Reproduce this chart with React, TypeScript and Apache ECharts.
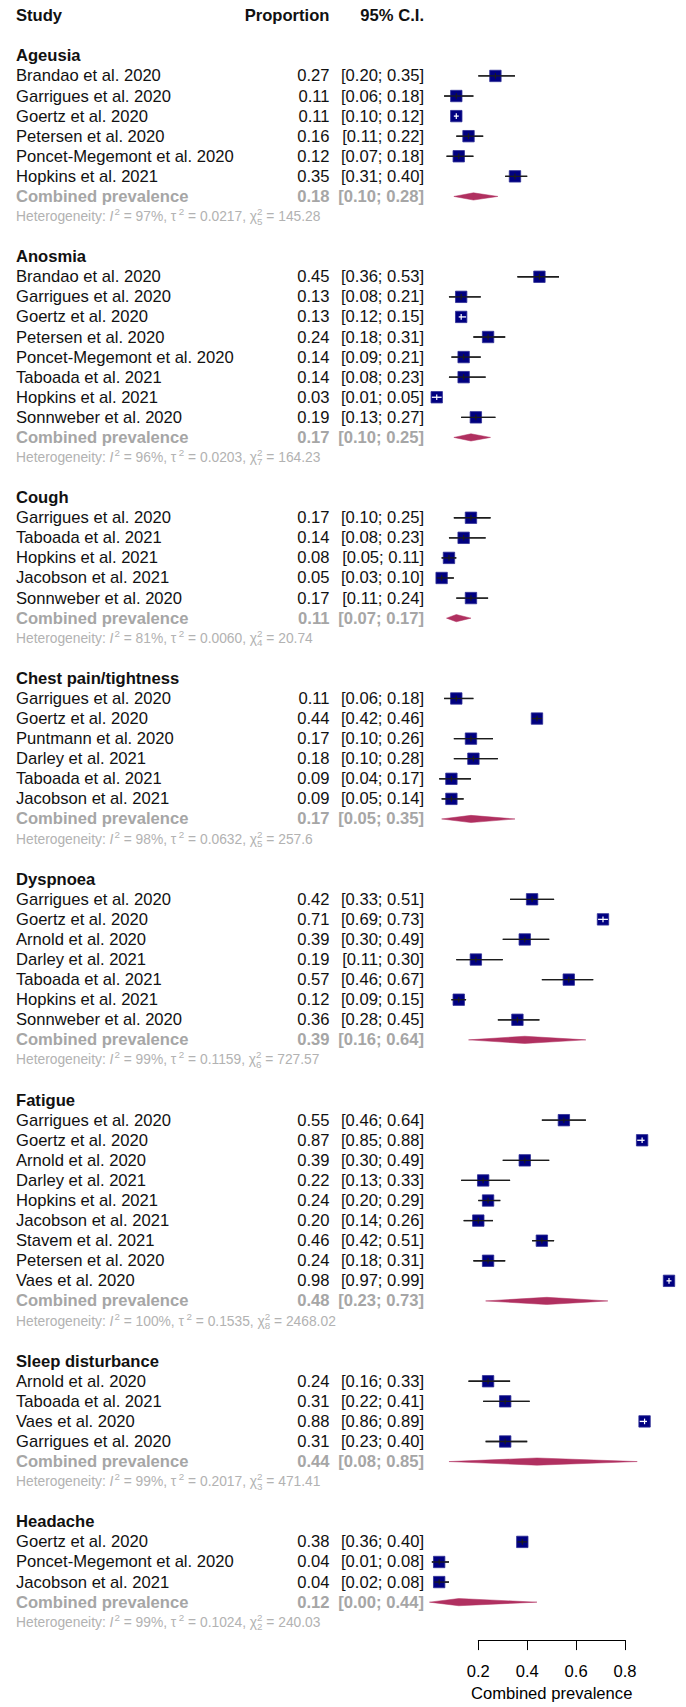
import React, { useEffect, useRef } from "react";
import * as echarts from "echarts";

type Study = [string, number, number, number];

const groupTitles = [
  "Ageusia",
  "Anosmia",
  "Cough",
  "Chest pain/tightness",
  "Dyspnoea",
  "Fatigue",
  "Sleep disturbance",
  "Headache",
];

const ageusia: Study[] = [
  ["Brandao et al. 2020", 0.27, 0.2, 0.35],
  ["Garrigues et al. 2020", 0.11, 0.06, 0.18],
  ["Goertz et al. 2020", 0.11, 0.1, 0.12],
  ["Petersen et al. 2020", 0.16, 0.11, 0.22],
  ["Poncet-Megemont et al. 2020", 0.12, 0.07, 0.18],
  ["Hopkins et al. 2021", 0.35, 0.31, 0.4],
];
const anosmia: Study[] = [
  ["Brandao et al. 2020", 0.45, 0.36, 0.53],
  ["Garrigues et al. 2020", 0.13, 0.08, 0.21],
  ["Goertz et al. 2020", 0.13, 0.12, 0.15],
  ["Petersen et al. 2020", 0.24, 0.18, 0.31],
  ["Poncet-Megemont et al. 2020", 0.14, 0.09, 0.21],
  ["Taboada et al. 2021", 0.14, 0.08, 0.23],
  ["Hopkins et al. 2021", 0.03, 0.01, 0.05],
  ["Sonnweber et al. 2020", 0.19, 0.13, 0.27],
];
const cough: Study[] = [
  ["Garrigues et al. 2020", 0.17, 0.1, 0.25],
  ["Taboada et al. 2021", 0.14, 0.08, 0.23],
  ["Hopkins et al. 2021", 0.08, 0.05, 0.11],
  ["Jacobson et al. 2021", 0.05, 0.03, 0.1],
  ["Sonnweber et al. 2020", 0.17, 0.11, 0.24],
];
const chestPain: Study[] = [
  ["Garrigues et al. 2020", 0.11, 0.06, 0.18],
  ["Goertz et al. 2020", 0.44, 0.42, 0.46],
  ["Puntmann et al. 2020", 0.17, 0.1, 0.26],
  ["Darley et al. 2021", 0.18, 0.1, 0.28],
  ["Taboada et al. 2021", 0.09, 0.04, 0.17],
  ["Jacobson et al. 2021", 0.09, 0.05, 0.14],
];
const dyspnoea: Study[] = [
  ["Garrigues et al. 2020", 0.42, 0.33, 0.51],
  ["Goertz et al. 2020", 0.71, 0.69, 0.73],
  ["Arnold et al. 2020", 0.39, 0.3, 0.49],
  ["Darley et al. 2021", 0.19, 0.11, 0.3],
  ["Taboada et al. 2021", 0.57, 0.46, 0.67],
  ["Hopkins et al. 2021", 0.12, 0.09, 0.15],
  ["Sonnweber et al. 2020", 0.36, 0.28, 0.45],
];
const fatigue: Study[] = [
  ["Garrigues et al. 2020", 0.55, 0.46, 0.64],
  ["Goertz et al. 2020", 0.87, 0.85, 0.88],
  ["Arnold et al. 2020", 0.39, 0.3, 0.49],
  ["Darley et al. 2021", 0.22, 0.13, 0.33],
  ["Hopkins et al. 2021", 0.24, 0.2, 0.29],
  ["Jacobson et al. 2021", 0.2, 0.14, 0.26],
  ["Stavem et al. 2021", 0.46, 0.42, 0.51],
  ["Petersen et al. 2020", 0.24, 0.18, 0.31],
  ["Vaes et al. 2020", 0.98, 0.97, 0.99],
];
const sleep: Study[] = [
  ["Arnold et al. 2020", 0.24, 0.16, 0.33],
  ["Taboada et al. 2021", 0.31, 0.22, 0.41],
  ["Vaes et al. 2020", 0.88, 0.86, 0.89],
  ["Garrigues et al. 2020", 0.31, 0.23, 0.4],
];
const headache: Study[] = [
  ["Goertz et al. 2020", 0.38, 0.36, 0.4],
  ["Poncet-Megemont et al. 2020", 0.04, 0.01, 0.08],
  ["Jacobson et al. 2021", 0.04, 0.02, 0.08],
];

const studiesByGroup = [ageusia, anosmia, cough, chestPain, dyspnoea, fatigue, sleep, headache];

const pooledEst = [0.18, 0.17, 0.11, 0.17, 0.39, 0.48, 0.44, 0.12];
const pooledLo = [0.1, 0.1, 0.07, 0.05, 0.16, 0.23, 0.08, 0.0];
const pooledHi = [0.28, 0.25, 0.17, 0.35, 0.64, 0.73, 0.85, 0.44];

const hetI2 = [97, 96, 81, 98, 99, 100, 99, 99];
const hetTau2 = ["0.0217", "0.0203", "0.0060", "0.0632", "0.1159", "0.1535", "0.2017", "0.1024"];
const hetDf = [5, 7, 4, 5, 6, 8, 3, 2];
const hetQ = ["145.28", "164.23", "20.74", "257.6", "727.57", "2468.02", "471.41", "240.03"];

const xTicks = [0.2, 0.4, 0.6, 0.8];

// studies whose CI lies inside the square (drawn with a white cross)
const whiteCross = [
  "Ageusia|Goertz et al. 2020",
  "Anosmia|Goertz et al. 2020",
  "Anosmia|Hopkins et al. 2021",
  "Dyspnoea|Goertz et al. 2020",
  "Fatigue|Goertz et al. 2020",
  "Fatigue|Vaes et al. 2020",
  "Sleep disturbance|Vaes et al. 2020",
];

const FONT = "'Liberation Sans', Arial, Helvetica, sans-serif";
const FS = 16.6;
const HET_FS = 13.8;
const SUP_FS = 9.8;
const NAME_X = 16;
const PROP_X = 329.5;
const CI_X = 424;
const GRAY = "#a6a6a6";
const HET_GRAY = "#b2b2b2";
const TEXT = "#111111";
const NAVY = "#000080";
const MAROON = "#b03060";

type Row = {
  kind: "header" | "title" | "study" | "combined" | "het";
  row: number;
  g: number;
  name?: string;
  est?: number;
  lo?: number;
  hi?: number;
};

function buildRows(): Row[] {
  const rows: Row[] = [];
  let r = 0;
  rows.push({ kind: "header", row: r, g: -1 });
  r += 2;
  groupTitles.forEach((title, g) => {
    rows.push({ kind: "title", row: r++, g, name: title });
    studiesByGroup[g].forEach((s) => {
      rows.push({ kind: "study", row: r++, g, name: s[0], est: s[1], lo: s[2], hi: s[3] });
    });
    rows.push({
      kind: "combined",
      row: r++,
      g,
      name: "Combined prevalence",
      est: pooledEst[g],
      lo: pooledLo[g],
      hi: pooledHi[g],
    });
    rows.push({ kind: "het", row: r++, g });
    r += 1;
  });
  return rows;
}

let measureCtx: CanvasRenderingContext2D | null = null;
function textWidth(s: string, size: number, italic = false, bold = false) {
  if (!measureCtx) measureCtx = document.createElement("canvas").getContext("2d");
  if (!measureCtx) return s.length * size * 0.5;
  measureCtx.font = `${italic ? "italic " : ""}${bold ? "bold " : ""}${size}px ${FONT}`;
  return measureCtx.measureText(s).width;
}

function txt(
  text: string,
  x: number,
  y: number,
  opts: { align?: string; bold?: boolean; italic?: boolean; fill?: string; size?: number } = {}
) {
  const align = opts.align || "left";
  return {
    type: "text",
    x,
    y,
    silent: true,
    style: {
      text,
      align,
      textAlign: align,
      verticalAlign: "middle",
      textVerticalAlign: "middle",
      fontSize: opts.size || FS,
      fontFamily: FONT,
      fontWeight: opts.bold ? "bold" : "normal",
      fontStyle: opts.italic ? "italic" : "normal",
      fill: opts.fill || TEXT,
    },
  };
}

const App: React.FC = () => {
  const ref = useRef<HTMLDivElement>(null);

  useEffect(() => {
    if (!ref.current) return;
    const chart = echarts.init(ref.current, undefined, { renderer: "svg" });
    const rows = buildRows();
    const lastRow = rows[rows.length - 1].row;

    const renderItem = (params: any, api: any) => {
      const r = rows[params.dataIndex];
      const y = api.coord([0.5, r.row])[1];
      const px = (v: number) => api.coord([v, r.row])[0];
      const children: any[] = [];

      if (r.kind === "header") {
        children.push(txt("Study", NAME_X, y, { bold: true }));
        children.push(txt("Proportion", PROP_X, y, { bold: true, align: "right" }));
        children.push(txt("95% C.I.", CI_X, y, { bold: true, align: "right" }));
      } else if (r.kind === "title") {
        children.push(txt(r.name!, NAME_X, y, { bold: true }));
      } else if (r.kind === "study") {
        const est = r.est!, lo = r.lo!, hi = r.hi!;
        children.push(txt(r.name!, NAME_X, y));
        children.push(txt(est.toFixed(2), PROP_X, y, { align: "right" }));
        children.push(txt(`[${lo.toFixed(2)}; ${hi.toFixed(2)}]`, CI_X, y, { align: "right" }));
        const white = whiteCross.indexOf(`${groupTitles[r.g]}|${r.name}`) >= 0;
        const size = 11.4;
        const cx = px(est);
        const x1 = px(lo);
        const x2 = px(hi);
        if (!white) {
          children.push({
            type: "line",
            silent: true,
            shape: { x1, y1: y, x2, y2: y },
            style: { stroke: "#1c1c1c", lineWidth: 1.3 },
          });
        }
        children.push({
          type: "rect",
          silent: true,
          shape: { x: cx - size / 2, y: y - size / 2, width: size, height: size },
          style: { fill: NAVY, stroke: "#2f2f96", lineWidth: 0.8 },
        });
        const lineCol = white ? "#ffffff" : "#1c1c1c";
        children.push({
          type: "line",
          silent: true,
          shape: { x1, y1: y, x2, y2: y },
          style: { stroke: lineCol, lineWidth: 1.3 },
        });
        children.push({
          type: "line",
          silent: true,
          shape: { x1: cx, y1: y - 2.8, x2: cx, y2: y + 2.8 },
          style: { stroke: lineCol, lineWidth: 1.2 },
        });
      } else if (r.kind === "combined") {
        const est = r.est!, lo = r.lo!, hi = r.hi!;
        children.push(txt(r.name!, NAME_X, y, { bold: true, fill: GRAY }));
        children.push(txt(est.toFixed(2), PROP_X, y, { bold: true, fill: GRAY, align: "right" }));
        children.push(
          txt(`[${lo.toFixed(2)}; ${hi.toFixed(2)}]`, CI_X, y, { bold: true, fill: GRAY, align: "right" })
        );
        const h = 3.6;
        children.push({
          type: "polygon",
          silent: true,
          shape: {
            points: [
              [px(lo), y],
              [px(est), y - h],
              [px(hi), y],
              [px(est), y + h],
            ],
          },
          style: { fill: MAROON, stroke: MAROON, lineWidth: 0.5 },
        });
      } else if (r.kind === "het") {
        const g = r.g;
        let x = NAME_X;
        const put = (s: string, opts: any = {}) => {
          const size = opts.size || HET_FS;
          children.push(txt(s, x, y + (opts.dy || 0), { fill: HET_GRAY, size, italic: opts.italic }));
          x += textWidth(s, size, opts.italic);
        };
        put("Heterogeneity: ");
        put("I", { italic: true });
        x += 1;
        put("2", { size: SUP_FS, dy: -5 });
        put(` = ${hetI2[g]}%, `);
        put("\u03c4");
        x += 2.5;
        put("2", { size: SUP_FS, dy: -5 });
        put(` = ${hetTau2[g]}, `);
        put("\u03c7");
        const xs = x;
        children.push(txt("2", xs, y - 5, { fill: HET_GRAY, size: SUP_FS }));
        children.push(txt(String(hetDf[g]), xs, y + 4.5, { fill: HET_GRAY, size: SUP_FS }));
        x = xs + Math.max(textWidth("2", SUP_FS), textWidth(String(hetDf[g]), SUP_FS));
        put(` = ${hetQ[g]}`);
      }
      return { type: "group", children };
    };

    const option: any = {
      animation: false,
      backgroundColor: "#ffffff",
      grid: { left: 478.3, right: 61, top: 15.7, bottom: 61.3, containLabel: false },
      xAxis: {
        type: "value",
        min: xTicks[0],
        max: xTicks[xTicks.length - 1],
        interval: 0.2,
        position: "bottom",
        axisLine: { show: true, onZero: false, lineStyle: { color: "#000", width: 1 } },
        axisTick: { show: true, length: 10, lineStyle: { color: "#000", width: 1 } },
        axisLabel: {
          show: true,
          fontSize: FS,
          fontFamily: FONT,
          color: "#000",
          margin: 23,
          formatter: (v: number) => v.toFixed(1),
        },
        splitLine: { show: false },
        name: "Combined prevalence",
        nameLocation: "middle",
        nameGap: 42,
        nameTextStyle: { fontSize: FS, fontFamily: FONT, color: "#000" },
      },
      yAxis: {
        type: "value",
        inverse: true,
        min: 0,
        max: lastRow + 0.89,
        show: false,
        splitLine: { show: false },
      },
      series: [
        {
          type: "custom",
          clip: false,
          renderItem,
          data: rows.map((r) => [r.est !== undefined ? r.est : 0.5, r.row]),
          encode: { x: 0, y: 1 },
        },
      ],
    };
    chart.setOption(option);
    return () => chart.dispose();
  }, []);

  return (
    <div
      ref={ref}
      style={{ position: "absolute", left: 0, top: 0, width: 686, height: 1707, background: "#fff" }}
    />
  );
};

export default App;
